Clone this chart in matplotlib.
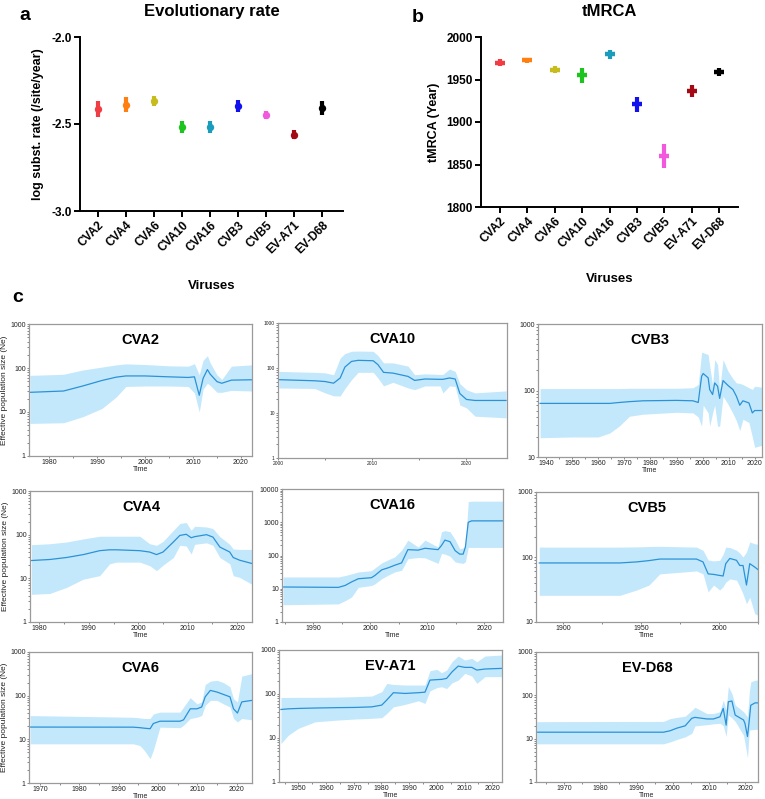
import numpy as np
import matplotlib.pyplot as plt
from matplotlib.ticker import LogLocator, FuncFormatter, MultipleLocator, NullFormatter

plt.rcParams['font.family'] = ['Liberation Sans', 'DejaVu Sans']

viruses = ['CVA2', 'CVA4', 'CVA6', 'CVA10', 'CVA16', 'CVB3', 'CVB5', 'EV-A71', 'EV-D68']
colors = ['#f23c44', '#ff8010', '#c6bd1c', '#1ec41e', '#1a9cbc', '#1212ee', '#f257de', '#a30a14', '#000000']

# panel a - log10 substitution rate (mean, half width of HPD)
rate_mean = [-2.414, -2.389, -2.368, -2.515, -2.515, -2.397, -2.448, -2.561, -2.406]
rate_err = [0.045, 0.043, 0.030, 0.034, 0.034, 0.035, 0.025, 0.025, 0.040]

# panel b - tMRCA (year)
tmrca_mean = [1969.9, 1972.7, 1961.3, 1955.1, 1979.7, 1920.7, 1859.8, 1936.7, 1958.6]
tmrca_err = [3.7, 3.0, 4.0, 9.0, 5.0, 8.5, 14.0, 7.0, 4.7]

# panel c - Bayesian skyline (time, median Ne, lower HPD, upper HPD)
cva2_t = [1976, 1983, 1987, 1991, 1994, 1996, 2000, 2005, 2009, 2010.3, 2011.3, 2012.1, 2013, 2013.6, 2015, 2016, 2018, 2022.3]
cva2_med = [28, 30, 39, 52, 62, 66, 66, 63, 61, 63, 24, 58, 92, 72, 49, 45, 53, 54]
cva2_hi = [68, 72, 90, 105, 118, 124, 120, 112, 110, 125, 70, 150, 190, 130, 70, 55, 110, 118]
cva2_lo = [5.5, 5.7, 7.8, 12, 22, 38, 39, 39, 38, 27, 10, 33, 45, 40, 28, 28, 31, 30]

cva10_t = [2000.1, 2003.9, 2005.0, 2005.9, 2006.6, 2007.1, 2007.8, 2008.5, 2010.1, 2010.6, 2011.2, 2012.2,
           2013.8, 2014.5, 2015.6, 2017.2, 2017.5, 2018.2, 2018.8, 2019.3, 2020.0, 2020.9, 2024.2]
cva10_med = [55, 52, 50, 46, 60, 105, 140, 148, 145, 119, 80, 77, 65, 53, 57, 56, 56, 60, 57, 27, 20, 19, 19]
cva10_hi = [84, 80, 78, 71, 167, 210, 235, 238, 235, 190, 130, 130, 110, 71, 74, 72, 72, 95, 84, 45, 33, 28, 31]
cva10_lo = [36, 35, 28, 24, 24, 35, 55, 80, 80, 60, 40, 48, 36, 33, 40, 40, 28, 40, 39, 15, 13, 8.5, 7.8]

cvb3_t = [1937.8, 1950, 1960, 1964.5, 1968, 1972, 1977.2, 1990, 1996.3, 1998.3, 1999.6, 2000.2, 2002.1, 2002.7,
          2003.8, 2004.6, 2005.7, 2006.5, 2007.8, 2009.7, 2011.6, 2012.9, 2014.2, 2015.4, 2017.7, 2019.0, 2019.9, 2022.7]
cvb3_med = [64, 64, 64, 64, 66, 68, 70, 71, 70, 66, 164, 180, 155, 103, 87, 130, 116, 76, 141, 119, 103, 82, 60, 70, 65, 46, 50, 50]
cvb3_hi = [107, 107, 107, 107, 107, 108, 108, 108, 110, 123, 376, 370, 347, 232, 120, 292, 246, 104, 292, 195, 150, 130,
           128, 123, 110, 104, 116, 112]
cvb3_lo = [19.5, 20, 20, 23, 29, 41, 44, 47, 46, 40, 29, 60, 46, 29, 46, 60, 29, 29, 82, 62, 45, 35, 25, 37, 33, 20, 14, 15]

cva4_t = [1978.4, 1982.1, 1985.5, 1988.9, 1992.2, 1994.2, 1995.6, 2000.3, 2002.3, 2003.7, 2005.0, 2007.1, 2008.4,
          2009.7, 2010.7, 2011.4, 2013.8, 2015.1, 2016.5, 2018.5, 2019.2, 2020.5, 2022.9]
cva4_med = [25.6, 27, 30, 35, 43, 45, 45, 43, 40, 35, 40, 68, 96, 102, 85, 90, 100, 88, 52, 40, 30, 26, 22]
cva4_hi = [59, 62, 68, 80, 92, 92, 92, 92, 62, 57, 70, 126, 180, 190, 126, 156, 150, 138, 90, 60, 47, 46, 46]
cva4_lo = [4.3, 4.5, 6.2, 9.6, 11.5, 21.5, 23.5, 23.5, 19.5, 15, 20, 30, 57, 55, 36, 60, 65, 57, 30, 21.5, 11.5, 10.5, 7.4]

cva16_t = [1984.7, 1994.4, 1995.6, 1996.7, 1997.9, 2000.2, 2000.8, 2002.0, 2003.2, 2004.3, 2005.5, 2006.6, 2008.4,
           2009.6, 2011.9, 2012.5, 2013.1, 2014.0, 2014.9, 2015.7, 2016.3, 2016.7, 2017.2, 2017.8, 2023.3]
cva16_med = [11.3, 11, 12.6, 16, 20, 21.5, 25, 37, 43, 51, 60, 150, 145, 165, 150, 200, 290, 260, 140, 110, 110, 180, 1000, 1100, 1100]
cva16_hi = [22.6, 22.6, 25, 28, 32, 35, 42, 60, 75, 91, 145, 290, 180, 290, 180, 520, 560, 520, 300, 160, 170, 200, 4200, 4300, 4300]
cva16_lo = [3.3, 3.5, 4.4, 5.6, 11, 12.5, 14, 20, 26, 32, 36, 80, 87, 85, 58, 115, 110, 95, 64, 60, 58, 65, 175, 175, 175]

cvb5_t = [1884.6, 1936.3, 1947.0, 1955, 1962.0, 1985.5, 1989.7, 1993.0, 1996.5, 2000.4, 2002.6, 2004.3, 2006.9,
          2011.2, 2013.3, 2015.4, 2017.6, 2019.7, 2022.9, 2025.0]
cvb5_med = [81, 81, 84, 88, 93, 93, 84, 55, 54, 52, 51, 79, 95, 89, 74, 74, 37, 79, 70, 64]
cvb5_hi = [142, 142, 143, 145, 146, 142, 127, 90, 87, 89, 110, 142, 140, 127, 115, 100, 120, 170, 160, 157]
cvb5_lo = [25.7, 25.7, 31, 37, 55, 61, 55, 29, 37, 31, 35, 41, 46, 44, 35, 27, 19, 24, 13.4, 12.7]

cva6_t = [1967.5, 1993.7, 1995.4, 1996.5, 1998.0, 1998.8, 2000.5, 2005.6, 2006.5, 2008.2, 2009.9, 2011.1, 2012.0,
          2013.3, 2015.0, 2016.6, 2018.3, 2019.2, 2020.2, 2021.3, 2023.9]
cva6_med = [19.1, 19, 18.5, 18, 17.5, 23, 26, 26, 28, 50, 50, 55, 94, 132, 121, 107, 94, 50, 40, 72, 78]
cva6_hi = [35, 32, 31, 30, 30, 38, 42, 42, 55, 90, 65, 72, 180, 215, 225, 200, 160, 85, 72, 280, 320]
cva6_lo = [7.9, 7.9, 7.2, 5.6, 3.6, 5.6, 19, 18.5, 21, 30, 32, 35, 60, 78, 78, 65, 55, 30, 25, 30, 28]

eva71_t = [1943.7, 1946.4, 1950.0, 1956.0, 1964.0, 1970.4, 1976.5, 1980.1, 1981.9, 1984.3, 1988.5, 1993.3, 1995.7,
           1997.5, 2000.0, 2001.7, 2003.5, 2005.5, 2007.7, 2010.1, 2012.6, 2014.4, 2017.4, 2023.4]
eva71_med = [44.5, 46, 47, 48, 49, 49.5, 51, 56, 73, 107, 103, 107, 110, 207, 212, 215, 226, 320, 431, 403, 403, 350, 370, 382]
eva71_hi = [83.5, 83.5, 84, 84, 85, 87, 90, 113, 174, 165, 160, 160, 160, 338, 363, 305, 350, 550, 730, 590, 646, 542, 730, 770]
eva71_lo = [7.5, 11.6, 16.6, 23.3, 25.5, 27, 28, 29, 36, 51, 58, 70, 61, 118, 140, 146, 133, 180, 207, 294, 256, 174, 248, 248]

evd68_t = [1962.4, 1997.4, 1999.2, 2001.1, 2003.4, 2005.2, 2006.1, 2009.4, 2011.2, 2013.0, 2013.9, 2014.7, 2015.3,
           2016.3, 2017.2, 2019.5, 2019.9, 2020.6, 2021.1, 2021.5, 2022.7, 2023.6]
evd68_med = [14.1, 14.1, 15.2, 17.5, 19.8, 29.5, 31, 28.5, 28.5, 32, 50, 20.5, 71, 74, 35, 27, 22.5, 11.2, 27, 59, 67, 67]
evd68_hi = [24.7, 25, 29, 31, 33, 45, 53, 38, 38, 42, 78, 46, 160, 110, 60, 42, 38, 32, 120, 205, 224, 224]
evd68_lo = [7.6, 7.6, 8.4, 9.6, 11, 13.3, 19.7, 21, 22, 22.6, 20, 11.2, 35, 30, 25, 12, 7.8, 3.6, 15.8, 16, 16.4, 16.4]


W, H = 765, 799
fig = plt.figure(figsize=(W / 100, H / 100), dpi=100)


def px_axes(x0, y0, x1, y1):
    # axes from pixel box (top-left origin)
    return fig.add_axes([x0 / W, (H - y1) / H, (x1 - x0) / W, (y1 - y0) / H])


def dot_panel(ax, mean, err, marker, ms, mew, ylim, yticks, ylabel, title, xlim):
    x = np.arange(len(viruses))
    for i in range(len(viruses)):
        ax.errorbar(x[i], mean[i], yerr=err[i], fmt=marker, color=colors[i], ms=ms, mew=mew,
                    elinewidth=3, capsize=0)
    ax.set_xlim(*xlim)
    ax.set_ylim(*ylim)
    ax.set_yticks(yticks)
    ax.set_xticks(x)
    ax.set_xticklabels(viruses, rotation=45, ha='right', rotation_mode='anchor',
                       fontsize=8.5, fontweight='bold')
    for lab in ax.get_yticklabels():
        lab.set_fontweight('bold')
        lab.set_fontsize(8.5)
    for s in ['top', 'right']:
        ax.spines[s].set_visible(False)
    for s in ['left', 'bottom']:
        ax.spines[s].set_linewidth(1.4)
    ax.tick_params(width=1.4, length=4, pad=2)
    ax.set_ylabel(ylabel, fontsize=9, fontweight='bold')
    ax.set_xlabel('Viruses', fontsize=9.5, fontweight='bold')
    ax.set_title(title, fontsize=12, fontweight='bold', pad=15)


ax_a = px_axes(80, 37, 343, 211)
dot_panel(ax_a, rate_mean, rate_err, 'o', 5.3, 0, (-3.0, -2.0), [-3.0, -2.5, -2.0],
          'log subst. rate (/site/year)', 'Evolutionary rate', (-0.65, 8.75))
ax_a.yaxis.set_major_formatter(FuncFormatter(lambda v, p: f'{v:.1f}'))
ax_a.xaxis.set_label_coords(0.5, -0.395)
ax_a.yaxis.set_label_coords(-0.135, 0.5)

ax_b = px_axes(481, 37, 738, 207)
dot_panel(ax_b, tmrca_mean, tmrca_err, '_', 7.5, 3.2, (1800, 2000), [1800, 1850, 1900, 1950, 2000],
          'tMRCA (Year)', 'tMRCA', (-0.7, 8.7))
ax_b.xaxis.set_label_coords(0.5, -0.39)
ax_b.yaxis.set_label_coords(-0.16, 0.5)

fig.text(25 / W, 1 - 16 / H, 'a', fontsize=14, fontweight='bold', ha='center', va='center')
fig.text(418 / W, 1 - 18 / H, 'b', fontsize=14, fontweight='bold', ha='center', va='center')
fig.text(18 / W, 1 - 298 / H, 'c', fontsize=14, fontweight='bold', ha='center', va='center')

skylines = [
    ('CVA2', cva2_t, cva2_med, cva2_lo, cva2_hi, (29, 324, 252, 456), (1975.8, 2022.3), (1, 1000), 10, 5),
    ('CVA10', cva10_t, cva10_med, cva10_lo, cva10_hi, (278, 323, 507, 458), (2000, 2024.3), (1, 1000), 10, 5),
    ('CVB3', cvb3_t, cvb3_med, cvb3_lo, cvb3_hi, (538, 324, 762, 457), (1937, 2022.7), (10, 1000), 10, 5),
    ('CVA4', cva4_t, cva4_med, cva4_lo, cva4_hi, (30, 491, 252, 622), (1978.1, 2023), (1, 1000), 10, 5),
    ('CVA16', cva16_t, cva16_med, cva16_lo, cva16_hi, (282, 489, 503, 622), (1984.5, 2023.3), (1, 10000), 10, 5),
    ('CVB5', cvb5_t, cvb5_med, cvb5_lo, cvb5_hi, (536, 492, 758, 622), (1882.5, 2025), (10, 1000), 50, 25),
    ('CVA6', cva6_t, cva6_med, cva6_lo, cva6_hi, (29, 652, 252, 783), (1967.2, 2023.9), (1, 1000), 10, 5),
    ('EV-A71', eva71_t, eva71_med, eva71_lo, eva71_hi, (279, 650, 502, 782), (1943, 2023.5), (1, 1000), 10, 5),
    ('EV-D68', evd68_t, evd68_med, evd68_lo, evd68_hi, (536, 652, 758, 782), (1962.2, 2023.5), (1, 1000), 10, 5),
]

for k, (name, t, med, lo, hi, box, xlim, ylim, major, minor) in enumerate(skylines):
    ax = px_axes(*box)
    ax.fill_between(t, lo, hi, color='#c4e8fb', lw=0)
    ax.plot(t, med, color='#2a92d8', lw=0.9)
    ax.set_yscale('log')
    ax.set_xlim(*xlim)
    ax.set_ylim(*ylim)
    ax.yaxis.set_major_locator(LogLocator(base=10))
    ax.yaxis.set_minor_locator(LogLocator(base=10, subs=np.arange(2, 10)))
    ax.yaxis.set_minor_formatter(NullFormatter())
    ax.yaxis.set_major_formatter(FuncFormatter(lambda v, p: f'{v:.0f}'))
    ax.xaxis.set_major_locator(MultipleLocator(major))
    ax.xaxis.set_minor_locator(MultipleLocator(minor))
    fs = 3.5 if name == 'CVA10' else 5
    ax.tick_params(which='both', labelsize=fs, colors='#555555', labelcolor='#222222', length=1.5,
                   width=0.5, pad=0.8)
    for s in ax.spines.values():
        s.set_color('#9a9a9a')
        s.set_linewidth(0.9)
    ax.text(0.5, 0.93, name, transform=ax.transAxes, ha='center', va='top',
            fontsize=10.5, fontweight='bold')
    if name != 'CVA10':
        ax.set_xlabel('Time', fontsize=5, labelpad=0, color='#222222')
    if k % 3 == 0:
        ax.set_ylabel('Effective population size (Ne)', fontsize=6, labelpad=2, color='#222222')

fig.savefig('out.png', dpi=100)
